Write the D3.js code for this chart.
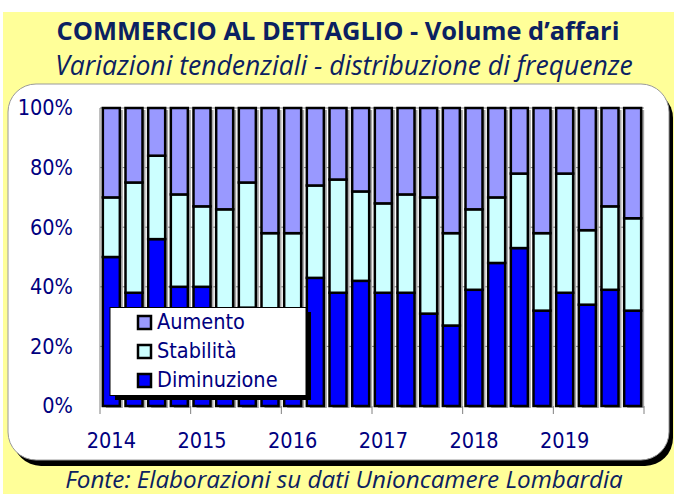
<!DOCTYPE html>
<html>
<head>
<meta charset="utf-8">
<script src="https://cdn.jsdelivr.net/npm/d3@7"></script>
<style>
	html, body { margin: 0; padding: 0; background: #ffffff; }
	svg { display: block; }
</style>
</head>
<body>
<div id="chart"></div>
<script>
// quarters 2014 - 2019, shares in percent
const years = [2014, 2015, 2016, 2017, 2018, 2019]
const quarters = ['I', 'II', 'III', 'IV']
const diminuzione = [50, 38, 56, 40, 40, 30, 33, 28, 30, 43, 38, 42, 38, 38, 31, 27, 39, 48, 53, 32, 38, 34, 39, 32]
const stabilita = [20, 37, 28, 31, 27, 36, 42, 30, 28, 31, 38, 30, 30, 33, 39, 31, 27, 22, 25, 26, 40, 25, 28, 31]
const aumento = [30, 25, 16, 29, 33, 34, 25, 42, 42, 26, 24, 28, 32, 29, 30, 42, 34, 30, 22, 42, 22, 41, 33, 37]
const yTicks = [0, 0.2, 0.4, 0.6, 0.8, 1]

const seriesNames = ['Diminuzione', 'Stabilità', 'Aumento']
const colours = {Diminuzione: '#0000ff', 'Stabilità': '#ccffff', Aumento: '#9999ff'}

const periods = []
years.forEach(y => quarters.forEach(q => periods.push(q + ' ' + y)))
const table = periods.map((p, i) => ({
	period: p,
	Diminuzione: diminuzione[i],
	'Stabilità': stabilita[i],
	Aumento: aumento[i]
}))

const width = 674, height = 494
const navy = '#000080', titleNavy = '#0b2161'
const axisFont = 'DejaVu Sans Condensed, DejaVu Sans'
const plot = {left: 100, right: 644, top: 108, bottom: 406}

const svg = d3.select('#chart').append('svg').attr('width', width).attr('height', height)

// yellow page and white rounded panel with its shadow
svg.append('rect').attr('x', 3).attr('y', 12).attr('width', width - 3).attr('height', height - 12).attr('fill', '#ffff99')
svg.append('rect').attr('x', 13).attr('y', 90).attr('width', 660).attr('height', 376).attr('rx', 28).attr('fill', '#000')
svg.append('rect').attr('x', 8).attr('y', 84).attr('width', 661).attr('height', 376).attr('rx', 28)
	.attr('fill', '#fff').attr('stroke', '#9a9a9a').attr('stroke-width', 1)

// fit a text line to a measured width
function fit(sel, target) {
	const w = sel.node().getComputedTextLength()
	const fs = parseFloat(sel.attr('font-size'))
	sel.attr('font-size', fs * target / w)
}

const title = svg.append('text').attr('x', 338).attr('y', 40).attr('text-anchor', 'middle')
	.attr('font-family', 'Open Sans').attr('font-weight', 'bold').attr('font-size', 22)
	.attr('fill', titleNavy).text('COMMERCIO AL DETTAGLIO - Volume d\u2019affari')
fit(title, 563)
const subtitle = svg.append('text').attr('x', 344).attr('y', 75).attr('text-anchor', 'middle')
	.attr('font-family', 'Open Sans').attr('font-style', 'italic').attr('font-size', 21)
	.attr('fill', titleNavy).text('Variazioni tendenziali - distribuzione di frequenze')
fit(subtitle, 578)
const footer = svg.append('text').attr('x', 344).attr('y', 488).attr('text-anchor', 'middle')
	.attr('font-family', 'Open Sans').attr('font-style', 'italic').attr('font-size', 21)
	.attr('fill', titleNavy).text('Fonte: Elaborazioni su dati Unioncamere Lombardia')
fit(footer, 558)

// scales
const x = d3.scaleBand().domain(periods).range([plot.left, plot.right]).paddingInner(0.25).paddingOuter(0.125)
const y = d3.scaleLinear().domain([0, 1]).range([plot.bottom, plot.top])

const stack = d3.stack().keys(seriesNames).offset(d3.stackOffsetExpand)
const layers = stack(table)

// gridlines
svg.append('g').selectAll('line').data(yTicks.slice(1)).enter().append('line')
	.attr('x1', plot.left).attr('x2', plot.right)
	.attr('y1', d => y(d)).attr('y2', d => y(d))
	.attr('stroke', '#808080').attr('stroke-width', 1)

// left frame line
svg.append('line').attr('x1', plot.left).attr('x2', plot.left).attr('y1', plot.top).attr('y2', plot.bottom)
	.attr('stroke', '#808080')

// bar shadows
svg.append('g').selectAll('rect').data(periods).enter().append('rect')
	.attr('x', d => x(d) + 3).attr('y', y(1) + 2)
	.attr('width', x.bandwidth()).attr('height', y(0) - y(1))
	.attr('fill', '#a6a6a6')

// stacked bars
svg.append('g').selectAll('g').data(layers).enter().append('g')
	.attr('fill', d => colours[d.key])
	.selectAll('rect').data(d => d).enter().append('rect')
	.attr('x', d => x(d.data.period))
	.attr('y', d => y(d[1]))
	.attr('width', x.bandwidth())
	.attr('height', d => y(d[0]) - y(d[1]))
	.attr('stroke', '#000').attr('stroke-width', 2.5)

// x axis ticks between years
const yearStarts = d3.range(0, periods.length + 1, 4)
svg.append('g').selectAll('line').data(yearStarts).enter().append('line')
	.attr('x1', i => plot.left + i * x.step()).attr('x2', i => plot.left + i * x.step())
	.attr('y1', plot.bottom).attr('y2', plot.bottom + 8)
	.attr('stroke', '#808080')

// year labels on the first quarter of each year
svg.append('g').selectAll('text').data(years).enter().append('text')
	.attr('x', d => x('I ' + d) + x.bandwidth() / 2)
	.attr('y', 448)
	.attr('text-anchor', 'middle')
	.attr('font-family', axisFont).attr('font-size', 21.5).attr('fill', navy)
	.text(d => d)

// y axis
const yAxis = svg.append('g').attr('transform', `translate(${plot.left - 27},0)`)
	.call(d3.axisLeft(y).tickValues(yTicks).tickFormat(d3.format('.0%')).tickSize(0))
yAxis.select('.domain').remove()
yAxis.selectAll('text').attr('font-family', axisFont).attr('font-size', 21.5).attr('fill', navy).attr('x', 0)

// legend
const legend = svg.append('g')
legend.append('rect').attr('x', 115).attr('y', 312).attr('width', 196).attr('height', 88).attr('fill', '#000')
legend.append('rect').attr('x', 110).attr('y', 307.5).attr('width', 196).attr('height', 88)
	.attr('fill', '#fff').attr('stroke', '#000').attr('stroke-width', 1)
const legendOrder = ['Aumento', 'Stabilità', 'Diminuzione']
const item = legend.selectAll('g').data(legendOrder).enter().append('g')
	.attr('transform', (d, i) => `translate(0,${329 + i * 29})`)
item.append('rect').attr('x', 138).attr('y', -13).attr('width', 13).attr('height', 13)
	.attr('fill', d => colours[d]).attr('stroke', '#000').attr('stroke-width', 2.5)
item.append('text').attr('x', 157).attr('y', 0)
	.attr('font-family', axisFont).attr('font-size', 21.5).attr('fill', navy)
	.text(d => d)
</script>
</body>
</html>
